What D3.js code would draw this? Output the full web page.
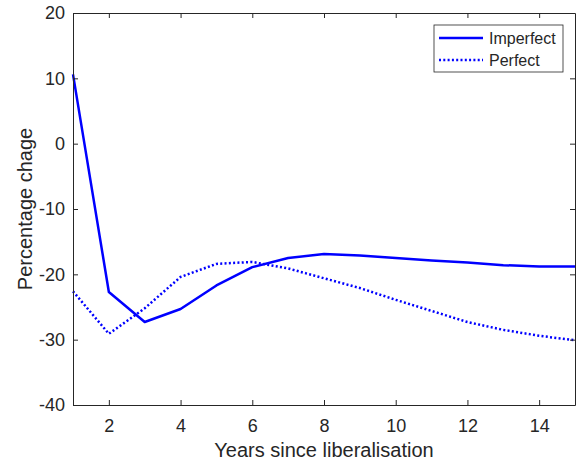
<!DOCTYPE html>
<html>
<head>
<meta charset="utf-8">
<script src="https://cdn.jsdelivr.net/npm/d3@7/dist/d3.min.js"></script>
<style>
  body { margin: 0; background: #fff; }
  text { font-family: "Liberation Sans", Arial, Helvetica, sans-serif; fill: #262626; }
</style>
</head>
<body>
<div id="chart"></div>
<script>
// data
const years = [1, 2, 3, 4, 5, 6, 7, 8, 9, 10, 11, 12, 13, 14, 15];
const imperfect = [10.6, -22.7, -27.3, -25.3, -21.7, -18.9, -17.5, -16.9, -17.1, -17.5, -17.9, -18.2, -18.6, -18.8, -18.8];
const perfect = [-22.6, -29.1, -25.2, -20.4, -18.4, -18.1, -19.1, -20.6, -22.1, -23.9, -25.6, -27.3, -28.5, -29.4, -30.1];
const xTicks = [2, 4, 6, 8, 10, 12, 14];
const yTicks = [-40, -30, -20, -10, 0, 10, 20];
const seriesNames = ['Imperfect', 'Perfect'];

const W = 577, H = 466;
const plotL = 73, plotR = 575, plotT = 13, plotB = 405;
const axisCol = '#262626';

const svg = d3.select('#chart').append('svg')
    .attr('width', W)
    .attr('height', H);

const x = d3.scaleLinear().domain([1, 15]).range([plotL, plotR]);
const y = d3.scaleLinear().domain([-40, 20]).range([plotB, plotT]);

// lines
const line = d3.line()
    .x(function(d, i){ return x(years[i]); })
    .y(function(d){ return y(d); });

svg.append('path')
    .datum(imperfect)
    .attr('d', line)
    .attr('fill', 'none')
    .attr('stroke', '#0000ff')
    .attr('stroke-width', 2.5)
    .attr('stroke-linejoin', 'round');

svg.append('path')
    .datum(perfect)
    .attr('d', line)
    .attr('fill', 'none')
    .attr('stroke', '#0000ff')
    .attr('stroke-width', 2.5)
    .attr('stroke-dasharray', '2,2.3');

// axes, ticks inward on all four sides
const tick = 5;
const plain = function(d){ return String(d); };   // hyphen minus like matlab
function styleAxis(g){
    g.select('.domain').attr('stroke', axisCol).attr('stroke-width', 1);
    g.selectAll('.tick line').attr('stroke', axisCol).attr('stroke-width', 1);
    g.selectAll('.tick text')
        .style('font-size', '18px')
        .style('fill', axisCol)
        .attr('font-family', '"Liberation Sans", Arial, sans-serif');
}

svg.append('g')
    .attr('transform', 'translate(0,' + plotB + ')')
    .call(d3.axisBottom(x).tickValues(xTicks).tickFormat(plain).tickSize(-tick).tickPadding(14).tickSizeOuter(0))
    .call(styleAxis);

svg.append('g')
    .attr('transform', 'translate(0,' + plotT + ')')
    .call(d3.axisTop(x).tickValues(xTicks).tickSize(-tick).tickFormat('').tickSizeOuter(0))
    .call(styleAxis);

svg.append('g')
    .attr('transform', 'translate(' + plotL + ',0)')
    .call(d3.axisLeft(y).tickValues(yTicks).tickFormat(plain).tickSize(-tick).tickPadding(8).tickSizeOuter(0))
    .call(styleAxis);

svg.append('g')
    .attr('transform', 'translate(' + plotR + ',0)')
    .call(d3.axisRight(y).tickValues(yTicks).tickSize(-tick).tickFormat('').tickSizeOuter(0))
    .call(styleAxis);

// axis labels
svg.append('text')
    .attr('x', (plotL + plotR) / 2)
    .attr('y', 457)
    .attr('text-anchor', 'middle')
    .style('font-size', '20px')
    .text('Years since liberalisation');

svg.append('text')
    .attr('transform', 'translate(32,' + (plotT + plotB) / 2 + ') rotate(-90)')
    .attr('text-anchor', 'middle')
    .style('font-size', '20px')
    .text('Percentage chage');

// legend
const lg = svg.append('g').attr('transform', 'translate(434,25)');
lg.append('rect')
    .attr('width', 129)
    .attr('height', 47)
    .attr('fill', '#fff')
    .attr('stroke', axisCol)
    .attr('stroke-width', 0.8);

seriesNames.forEach(function(name, i){
    const yy = 13 + i * 22;
    lg.append('line')
        .attr('x1', 5).attr('x2', 49)
        .attr('y1', yy).attr('y2', yy)
        .attr('stroke', '#0000ff')
        .attr('stroke-width', 2.5)
        .attr('stroke-dasharray', i === 1 ? '2,2.3' : null);
    lg.append('text')
        .attr('x', 55)
        .attr('y', yy + 6)
        .style('font-size', '16px')
        .text(name);
});
</script>
</body>
</html>
